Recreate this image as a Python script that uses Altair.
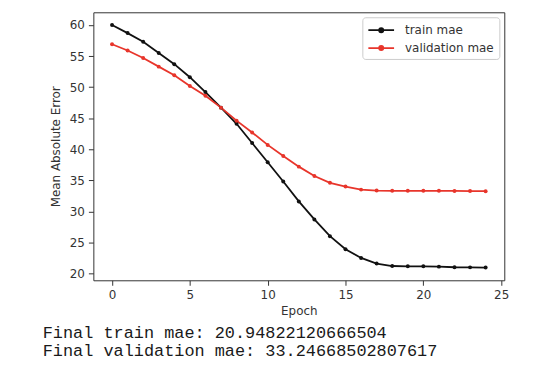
import altair as alt
import pandas as pd

epochs = list(range(25))
train_mae = [60.0, 58.7, 57.3, 55.5, 53.7, 51.6, 49.2, 46.7, 44.1, 41.0, 37.9, 34.8,
             31.6, 28.7, 26.0, 23.9, 22.5, 21.6, 21.2, 21.15, 21.15, 21.1, 21.0, 20.98, 20.95]
val_mae = [56.9, 55.9, 54.7, 53.3, 51.9, 50.2, 48.6, 46.7, 44.6, 42.7, 40.7, 38.9,
           37.2, 35.7, 34.6, 34.0, 33.5, 33.35, 33.3, 33.3, 33.3, 33.3, 33.28, 33.27, 33.25]
series_names = ["train mae", "validation mae"]
series_colors = ["#111111", "#e8352b"]
x_ticks = [0, 5, 10, 15, 20, 25]
y_ticks = [20, 25, 30, 35, 40, 45, 50, 55, 60]
caption_lines = ["Final train mae: 20.94822120666504",
                 "Final validation mae: 33.24668502807617"]

rows = []
for e, t, v in zip(epochs, train_mae, val_mae):
    rows.append({"epoch": e, "mae": t, "series": series_names[0]})
    rows.append({"epoch": e, "mae": v, "series": series_names[1]})
df = pd.DataFrame(rows)

symbol_path = ("M-1.85,0L1.85,0M-0.3,0A0.3,0.3,0,1,1,0.3,0"
               "A0.3,0.3,0,1,1,-0.3,0Z")

legend = alt.Legend(
    title=None, orient="top-right", offset=5, padding=5,
    strokeColor="#cccccc", fillColor="white", cornerRadius=3,
    labelFont="DejaVu Sans", labelFontSize=12, labelColor="#333333",
    symbolType=symbol_path, symbolSize=196, symbolStrokeWidth=1.8,
    symbolOffset=6, labelOffset=16, rowPadding=4,
)

base = alt.Chart(df).encode(
    x=alt.X("epoch:Q",
            scale=alt.Scale(domain=[-1.2, 25.2], nice=False, zero=False),
            axis=alt.Axis(values=x_ticks, title="Epoch", titlePadding=5)),
    y=alt.Y("mae:Q",
            scale=alt.Scale(domain=[18.9, 62.05], nice=False, zero=False),
            axis=alt.Axis(values=y_ticks, title="Mean Absolute Error", titlePadding=7)),
    color=alt.Color("series:N",
                    scale=alt.Scale(domain=series_names, range=series_colors),
                    legend=legend),
)

lines = base.mark_line(strokeWidth=1.8)
points = base.mark_point(filled=True, size=16, opacity=1)

chart = alt.layer(lines, points).properties(
    width=414, height=270,
    padding={"left": 86, "top": 3, "right": 40, "bottom": 82},
    autosize="none",
    background="white",
    title=alt.TitleParams(
        text=caption_lines, orient="bottom", anchor="start", frame="group",
        dx=-51, offset=9, font="Liberation Mono", fontSize=17,
        fontWeight="normal", color="#1a1a1a", lineHeight=18, baseline="top"),
).configure_view(
    stroke="#333333", strokeWidth=1
).configure_axis(
    domain=False, grid=False, tickColor="#333333", tickSize=5,
    labelFont="DejaVu Sans", labelFontSize=12, labelColor="#333333", labelPadding=4,
    titleFont="DejaVu Sans", titleFontSize=12, titleFontWeight="normal",
    titleColor="#333333",
)

chart.save("out.html", embed_options={"renderer": "svg", "actions": False})
